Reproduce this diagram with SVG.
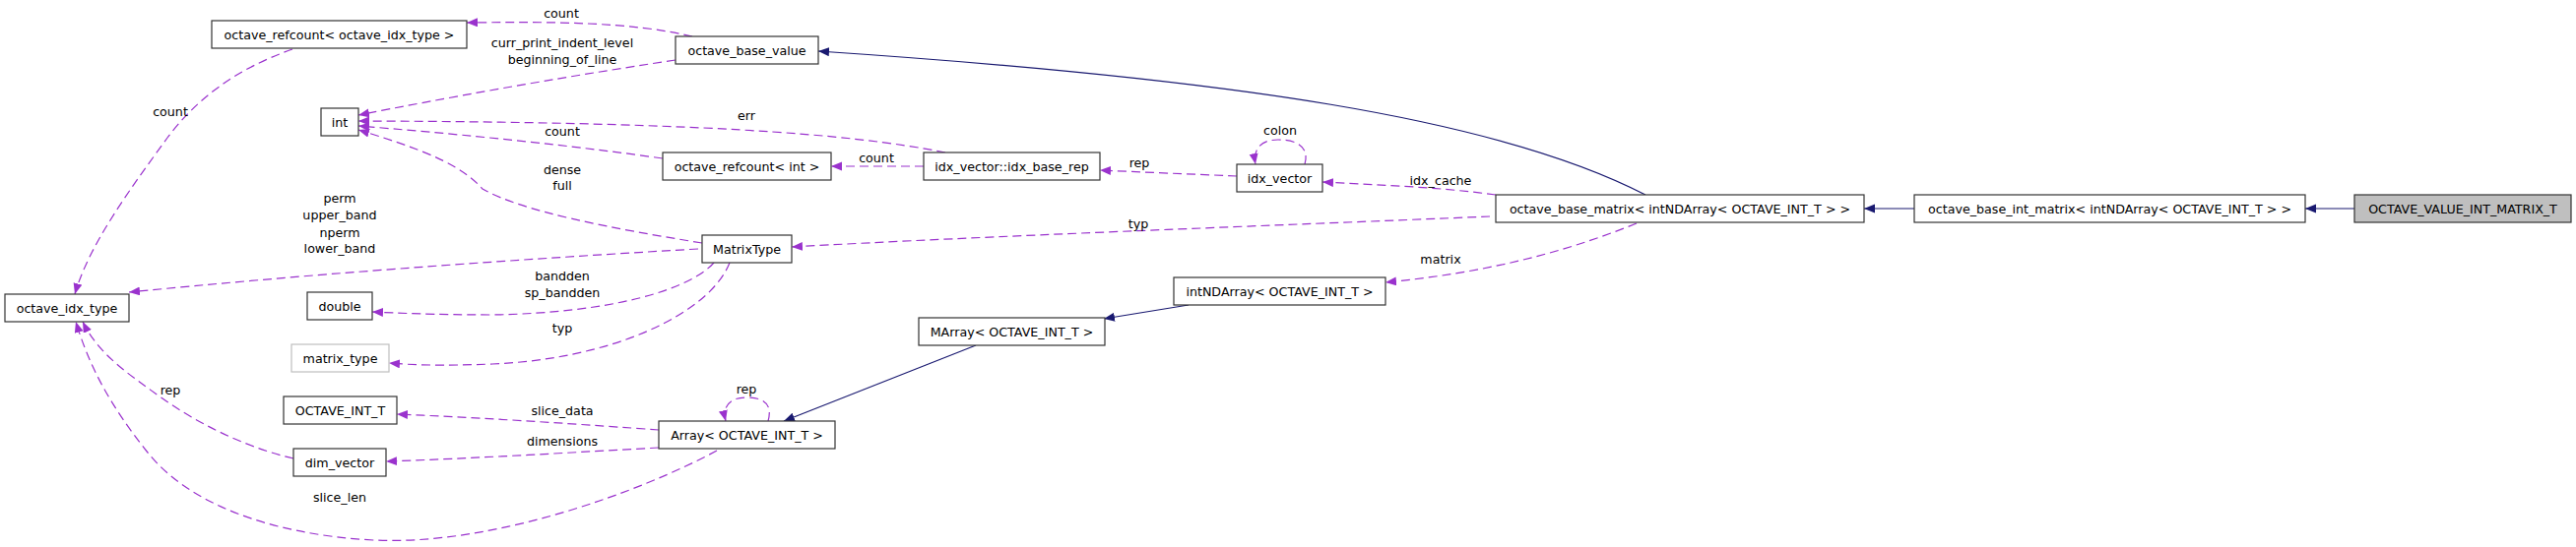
<svg xmlns="http://www.w3.org/2000/svg" width="2616" height="556" viewBox="0 0 2616 556">
<style>
text{font-family:"DejaVu Sans","Noto Sans",sans-serif;font-size:12.67px;fill:#000;text-anchor:middle}
.n rect{fill:#fff;stroke:#333;stroke-width:1.2}
.n.g rect{fill:#bfbfbf}
.n.l rect{stroke:#bfbfbf}
.u{fill:none;stroke:#9a32cd;stroke-width:1.2;stroke-dasharray:9,5;marker-end:url(#pa)}
.i{fill:none;stroke:#191970;stroke-width:1.2;marker-end:url(#ba)}
</style>
<defs>
<marker id="pa" markerUnits="userSpaceOnUse" markerWidth="12" markerHeight="10" refX="11" refY="4.5" orient="auto"><path d="M0,0L11,4.5L0,9z" fill="#9a32cd"/></marker>
<marker id="ba" markerUnits="userSpaceOnUse" markerWidth="12" markerHeight="10" refX="11" refY="4.5" orient="auto"><path d="M0,0L11,4.5L0,9z" fill="#191970"/></marker>
</defs>
<rect width="2616" height="556" fill="#fff"/>
<g id="edges">
<path class="i" d="M2391,212L2341,212"/>
<path class="i" d="M1944,212L1893,212"/>
<path class="i" d="M1671,198C1520,120 1250,80 831,52"/>
<path class="i" d="M1207,310L1121,324"/>
<path class="i" d="M991,351L796,428"/>
<path class="u" d="M1519,198C1460,190 1400,188 1343,185"/>
<path class="u" d="M1513,220C1300,229 1000,240 804,251"/>
<path class="u" d="M1662,227C1580,260 1500,278 1407,287"/>
<path class="u" d="M1256,179C1210,177 1160,175 1117,173"/>
<path class="u" d="M1325,167C1330,150 1318,142 1298,142C1282,142 1272,150 1275,167"/>
<path class="u" d="M938,169L844,169"/>
<path class="u" d="M960,155C860,135 700,124 364,123"/>
<path class="u" d="M673,161C560,145 450,135 364,128"/>
<path class="u" d="M686,61C560,80 450,100 364,117"/>
<path class="u" d="M703,37C640,22 560,22 474,23"/>
<path class="u" d="M713,247C620,232 530,215 490,192C470,170 440,155 364,132"/>
<path class="u" d="M709,253C500,265 300,280 131,297"/>
<path class="u" d="M725,267C700,295 620,318 500,320C440,320 400,318 378,317"/>
<path class="u" d="M741,267C720,320 620,365 500,370C450,372 420,371 395,369"/>
<path class="u" d="M669,437C600,432 500,425 403,421"/>
<path class="u" d="M669,455C580,460 480,466 392,469"/>
<path class="u" d="M728,458C650,500 500,555 379,549C270,543 190,510 150,460C110,410 90,370 77,327"/>
<path class="u" d="M298,466C250,455 200,430 165,405C130,380 100,360 84,327"/>
<path class="u" d="M297,50C240,70 200,100 170,140C130,195 90,250 76,299"/>
<path class="u" d="M780,428C785,410 775,404 758,404C742,404 733,412 737,428"/>
<text x="570" y="17.5">count</text>
<text x="571" y="47.5">curr_print_indent_level</text>
<text x="571" y="64.5">beginning_of_line</text>
<text x="758" y="121.5">err</text>
<text x="890" y="164.5">count</text>
<text x="1157" y="169.5">rep</text>
<text x="1300" y="136.5">colon</text>
<text x="1463" y="187.5">idx_cache</text>
<text x="1156" y="231.5">typ</text>
<text x="1463" y="267.5">matrix</text>
<text x="173" y="117.5">count</text>
<text x="571" y="137.5">count</text>
<text x="571" y="176.5">dense</text>
<text x="571" y="192.5">full</text>
<text x="345" y="205.5">perm</text>
<text x="345" y="222.5">upper_band</text>
<text x="345" y="240.5">nperm</text>
<text x="345" y="256.5">lower_band</text>
<text x="571" y="284.5">bandden</text>
<text x="571" y="301.5">sp_bandden</text>
<text x="571" y="337.5">typ</text>
<text x="173" y="400.5">rep</text>
<text x="571" y="421.5">slice_data</text>
<text x="571" y="452.5">dimensions</text>
<text x="345" y="509.5">slice_len</text>
<text x="758" y="399.5">rep</text>
</g>
<g id="n_OCTAVE_VALUE_INT_MATRIX_T" class="n g"><rect x="2391" y="198" width="220" height="28"/><text x="2501" y="216.5">OCTAVE_VALUE_INT_MATRIX_T</text></g>
<g id="n_octave_base_int_matrix" class="n"><rect x="1944" y="198" width="397" height="28"/><text x="2142.5" y="216.5">octave_base_int_matrix&lt; intNDArray&lt; OCTAVE_INT_T &gt; &gt;</text></g>
<g id="n_octave_base_matrix" class="n"><rect x="1519" y="198" width="374" height="28"/><text x="1706" y="216.5">octave_base_matrix&lt; intNDArray&lt; OCTAVE_INT_T &gt; &gt;</text></g>
<g id="n_octave_base_value" class="n"><rect x="686" y="37" width="145" height="28"/><text x="758.5" y="55.5">octave_base_value</text></g>
<g id="n_octave_refcount_idx" class="n"><rect x="215" y="21" width="259" height="28"/><text x="344.5" y="39.5">octave_refcount&lt; octave_idx_type &gt;</text></g>
<g id="n_int" class="n"><rect x="326" y="110" width="38" height="28"/><text x="345" y="128.5">int</text></g>
<g id="n_octave_idx_type" class="n"><rect x="5" y="299" width="126" height="28"/><text x="68" y="317.5">octave_idx_type</text></g>
<g id="n_idx_vector" class="n"><rect x="1256" y="167" width="87" height="28"/><text x="1299.5" y="185.5">idx_vector</text></g>
<g id="n_idx_base_rep" class="n"><rect x="938" y="155" width="179" height="28"/><text x="1027.5" y="173.5">idx_vector::idx_base_rep</text></g>
<g id="n_octave_refcount_int" class="n"><rect x="673" y="155" width="171" height="28"/><text x="758.5" y="173.5">octave_refcount&lt; int &gt;</text></g>
<g id="n_MatrixType" class="n"><rect x="713" y="239" width="91" height="28"/><text x="758.5" y="257.5">MatrixType</text></g>
<g id="n_double" class="n"><rect x="312" y="297" width="66" height="28"/><text x="345" y="315.5">double</text></g>
<g id="n_matrix_type" class="n l"><rect x="296" y="350" width="99" height="28"/><text x="345.5" y="368.5">matrix_type</text></g>
<g id="n_intNDArray" class="n"><rect x="1192" y="282" width="215" height="28"/><text x="1299.5" y="300.5">intNDArray&lt; OCTAVE_INT_T &gt;</text></g>
<g id="n_MArray" class="n"><rect x="933" y="323" width="189" height="28"/><text x="1027.5" y="341.5">MArray&lt; OCTAVE_INT_T &gt;</text></g>
<g id="n_Array" class="n"><rect x="669" y="428" width="179" height="28"/><text x="758.5" y="446.5">Array&lt; OCTAVE_INT_T &gt;</text></g>
<g id="n_OCTAVE_INT_T" class="n"><rect x="288" y="403" width="115" height="28"/><text x="345.5" y="421.5">OCTAVE_INT_T</text></g>
<g id="n_dim_vector" class="n"><rect x="298" y="456" width="94" height="28"/><text x="345" y="474.5">dim_vector</text></g>
</svg>
